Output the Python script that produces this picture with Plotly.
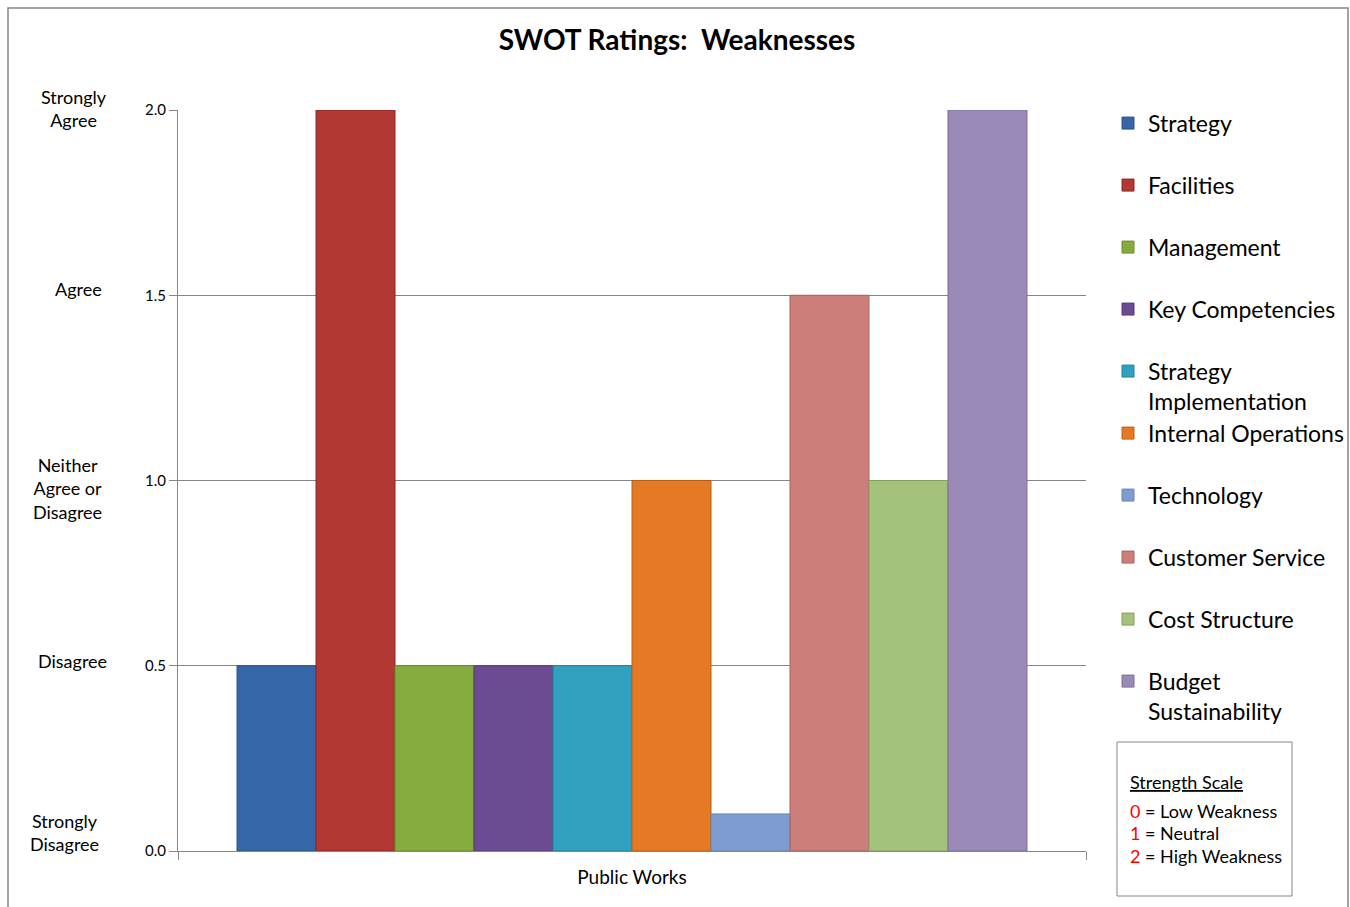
import plotly.graph_objects as go

# ---- data ----
category = ["Public Works"]
series_names = ["Strategy", "Facilities", "Management", "Key Competencies",
                "Strategy<br>Implementation", "Internal Operations", "Technology",
                "Customer Service", "Cost Structure", "Budget<br>Sustainability"]
series_values = [0.5, 2.0, 0.5, 0.5, 0.5, 1.0, 0.1, 1.5, 1.0, 2.0]
series_colors = ["#3566A8", "#B23834", "#86AB3E", "#6B4C92", "#32A0BF",
                 "#E67A24", "#7E9CCF", "#CC7E7B", "#A5C27C", "#9A8AB8"]
line_colors = ["#2A5288", "#8A2725", "#6C8C2E", "#553A76", "#27819B",
               "#B95E17", "#6B86B4", "#A86462", "#86A05F", "#7D6E98"]
y_ticks = [0.0, 0.5, 1.0, 1.5, 2.0]
y_tick_labels = ["0.0", "0.5", "1.0", "1.5", "2.0"]
scale_labels = ["Strongly<br>Disagree", "Disagree", "Neither<br>Agree or<br>Disagree",
                "Agree", "Strongly<br>Agree"]

# layout-only placement of the scale labels (pixel centre x, vertical shift)
scale_label_xpx = [64, 72, 67, 78, 74]
scale_label_shift = [19, 5, -8, 6, 2]

FONT = "Lato, Carlito, Calibri, sans-serif"
W, H = 1350, 907
L, R, T, B = 178, 264, 110, 56
PW, PH = W - L - R, H - T - B


def px_x(px):
    return (px - L) / PW


def px_y(py):
    return (H - B - py) / PH


fig = go.Figure()
for i, (n, v) in enumerate(zip(series_names, series_values)):
    lg = "legend" if i == 0 else f"legend{i+1}"
    fig.add_trace(go.Bar(
        x=category, y=[v], name=n, legend=lg,
        marker=dict(color=series_colors[i], line=dict(color=line_colors[i], width=1)),
    ))

layout = dict(
    width=W, height=H,
    margin=dict(l=L, r=R, t=T, b=B, autoexpand=False),
    paper_bgcolor="white", plot_bgcolor="white",
    font=dict(family=FONT, color="#000000"),
    barmode="group", bargap=0.13, bargroupgap=0,
    title=dict(text="<b>SWOT Ratings:  Weaknesses</b>", x=677 / W, xanchor="center",
               y=1 - 40 / H, yanchor="middle", font=dict(size=28, family=FONT, color="#000")),
    xaxis=dict(type="category", showline=True, linecolor="#868686", linewidth=1,
               ticks="outside", tickson="boundaries", ticklen=8, tickcolor="#868686",
               tickfont=dict(size=19), showgrid=False, ticklabelstandoff=9),
    yaxis=dict(range=[0, 2], tickvals=y_ticks, ticktext=y_tick_labels,
               showline=True, linecolor="#868686", linewidth=1,
               ticks="outside", ticklen=8, tickcolor="#868686",
               tickfont=dict(size=15), showgrid=True, gridcolor="#868686", gridwidth=1,
               zeroline=False),
    showlegend=True,
)

# separate legends placed one per row
fs = 23
lh = 1.3 * fs
for i in range(len(series_names)):
    key = "legend" if i == 0 else f"legend{i+1}"
    first_line_center = 124 + 62 * i
    top = first_line_center - ((lh + 3) / 2 + 5 + 0.3 * lh - 0.35 * fs)
    layout[key] = dict(x=px_x(1108), xanchor="left", y=px_y(top), yanchor="top",
                       font=dict(size=fs, family=FONT, color="#000"),
                       bgcolor="rgba(0,0,0,0)", borderwidth=0, valign="top",
                       itemclick=False, itemdoubleclick=False)

fig.update_layout(**layout)

# left scale labels
for v, txt, xp, sh in zip(y_ticks, scale_labels, scale_label_xpx, scale_label_shift):
    fig.add_annotation(x=px_x(xp), xref="paper", y=v, yref="y", yshift=sh,
                       text=txt, showarrow=False, xanchor="center", yanchor="middle",
                       font=dict(size=18, family=FONT, color="#000"), align="center")

# outer chart border
fig.add_shape(type="rect", xref="paper", yref="paper",
              x0=px_x(8), x1=px_x(1348), y0=px_y(912), y1=px_y(8),
              line=dict(color="#868686", width=1.5), layer="below")

# strength scale box
fig.add_shape(type="rect", xref="paper", yref="paper",
              x0=px_x(1117), x1=px_x(1292), y0=px_y(896), y1=px_y(742),
              line=dict(color="#868686", width=1))
box_lines = [
    ("<u>Strength Scale</u>", 782),
    ("<span style='color:#FF0000'>0</span> = Low Weakness", 811),
    ("<span style='color:#FF0000'>1</span> = Neutral", 833),
    ("<span style='color:#FF0000'>2</span> = High Weakness", 856),
]
for txt, py in box_lines:
    fig.add_annotation(x=px_x(1128), xref="paper", y=px_y(py), yref="paper",
                       text=txt, showarrow=False, xanchor="left", yanchor="middle",
                       font=dict(size=18, family=FONT, color="#000"))

fig.write_html("out.html")
